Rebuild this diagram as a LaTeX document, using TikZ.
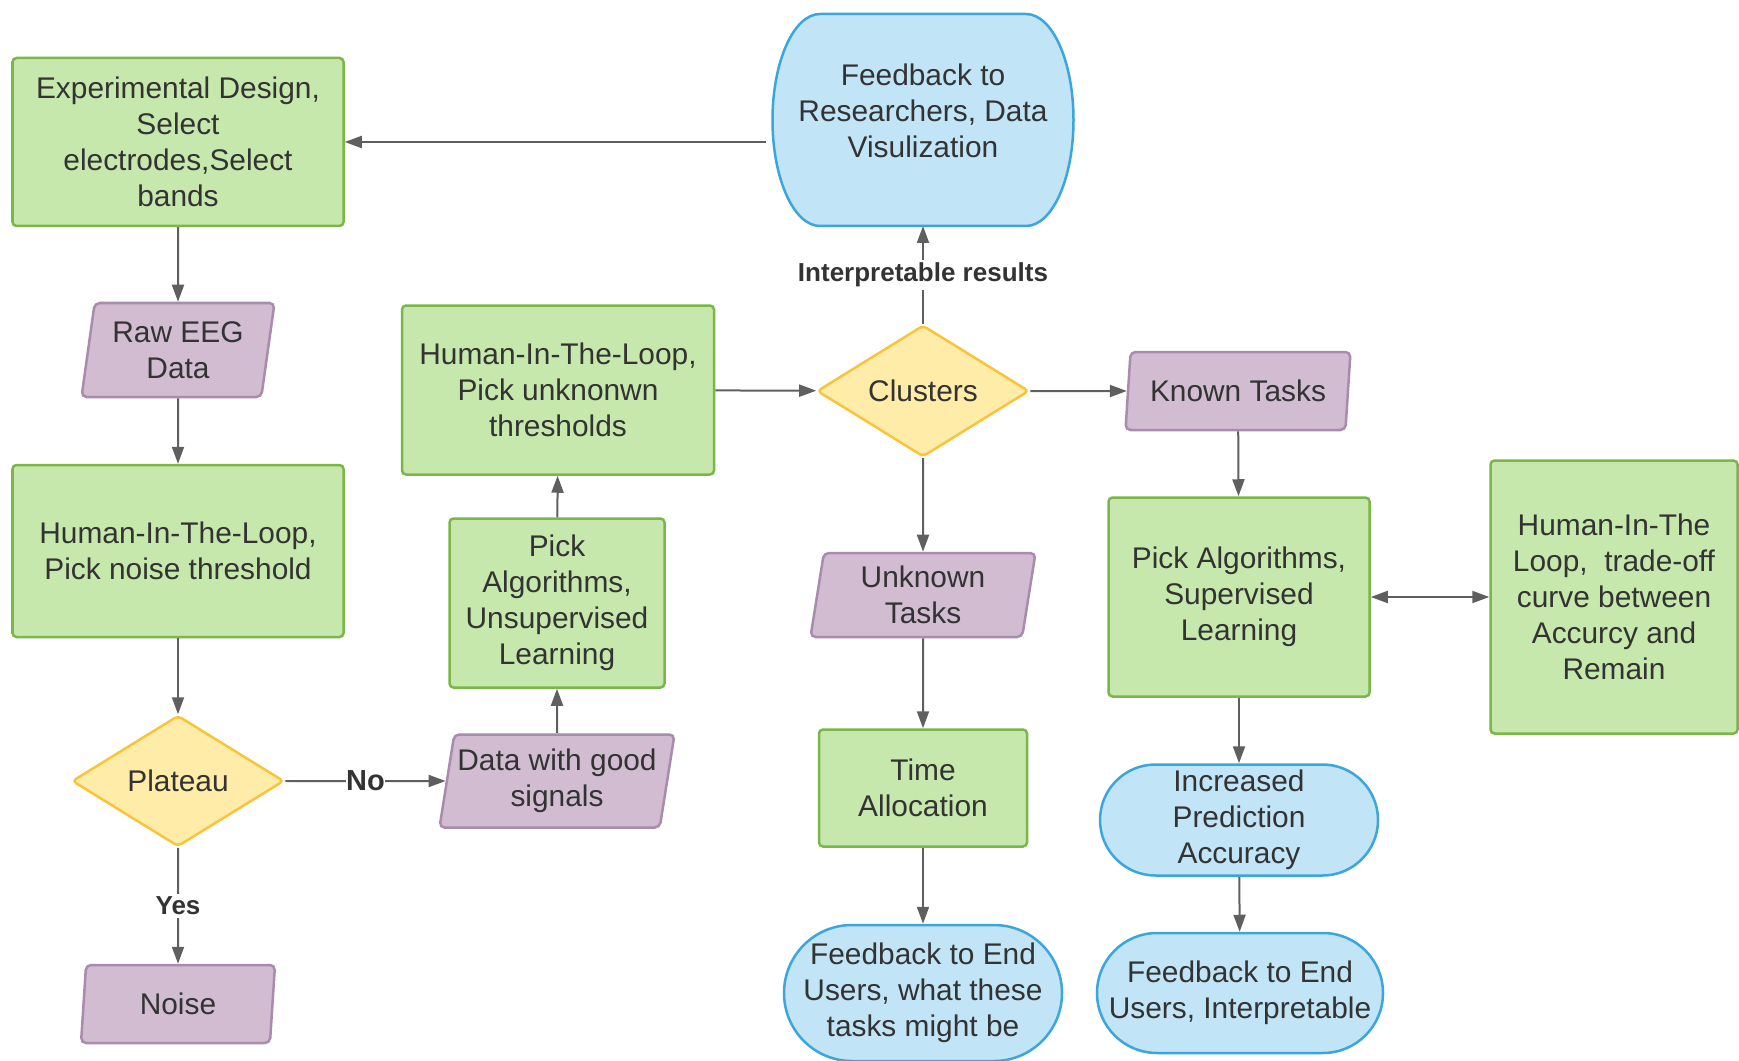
\documentclass[tikz,border=0pt]{standalone}
\usepackage{fontspec}
\setmainfont{Liberation Sans}
\usetikzlibrary{
  arrows.meta,
  shapes.geometric,
  backgrounds
}
\definecolor{greenfill}{HTML}{C7E8AC}
\definecolor{greenline}{HTML}{7AB648}
\definecolor{purplefill}{HTML}{D1BCD2}
\definecolor{purpleline}{HTML}{A98BAC}
\definecolor{yellowfill}{HTML}{FFECA9}
\definecolor{yellowline}{HTML}{F9C43A}
\definecolor{bluefill}{HTML}{C1E4F7}
\definecolor{blueline}{HTML}{3AA6DD}
\definecolor{arrowgray}{HTML}{5F5F5F}
\definecolor{textgray}{HTML}{333333}
\tikzset{
  >={Triangle[length=0.34cm,width=0.24cm]},
  base/.style={
    font=\fontsize{17}{20.5}\selectfont,
    text=textgray,
    align=center,
    inner sep=0pt,
    line width=0.05cm
  },
  process/.style={
    base,
    rectangle,
    rounded corners=0.08cm,
    draw=greenline,
    fill=greenfill
  },
  iobox/.style={
    base,
    trapezium,
    trapezium left angle=77,
    trapezium right angle=103,
    trapezium stretches body=true,
    rounded corners=0.1cm,
    draw=purpleline,
    fill=purplefill
  },
  decision/.style={
    base,
    diamond,
    rounded corners=0.08cm,
    draw=yellowline,
    fill=yellowfill
  },
  terminal/.style={
    base,
    rectangle,
    rounded corners=#1,
    draw=blueline,
    fill=bluefill
  },
  flow/.style={
    line width=0.04cm,
    draw=arrowgray,
    ->
  },
  flowlabel/.style={
    font=\bfseries\fontsize{14.8}{17}\selectfont,
    text=textgray,
    fill=white,
    inner sep=0.06cm
  }
}

\begin{document}
\begin{tikzpicture}
  \useasboundingbox (0,0) rectangle (34.78,-21.22);

  % ---------- left column ----------
  \node[process, minimum width=6.62cm, minimum height=3.36cm]
    (design) at (3.56,-2.84)
    {Experimental Design,\\Select\\electrodes,Select\\bands};
  \node[iobox, minimum width=3.86cm, minimum height=1.88cm]
    (raw) at (3.56,-7.00) {Raw EEG\\Data};
  \node[process, minimum width=6.62cm, minimum height=3.44cm]
    (noisehitl) at (3.56,-11.02)
    {Human-In-The-Loop,\\Pick noise threshold};
  \node[decision, minimum width=4.24cm, minimum height=2.62cm]
    (plateau) at (3.56,-15.62) {Plateau};
  \node[iobox, minimum width=3.88cm, minimum height=1.56cm]
    (noise) at (3.56,-20.08) {Noise};

  % ---------- unsupervised branch ----------
  \node[iobox, minimum width=4.70cm, minimum height=1.86cm]
    (goodsig) at (11.14,-15.62) {Data with good\\signals};
  \node[process, minimum width=4.30cm, minimum height=3.38cm]
    (unsup) at (11.14,-12.06)
    {Pick\\Algorithms,\\Unsupervised\\Learning};
  \node[process, minimum width=6.24cm, minimum height=3.38cm]
    (threshitl) at (11.16,-7.80)
    {Human-In-The-Loop,\\Pick unknonwn\\thresholds};

  % ---------- clusters column ----------
  \node[base, outer sep=0pt, text depth=0.37cm,
    minimum width=6.02cm, minimum height=4.24cm]
    (fbres) at (18.46,-2.40)
    {Feedback to\\Researchers, Data\\Visulization};
  \begin{pgfonlayer}{background}
    \draw[draw=blueline, fill=bluefill, line width=0.05cm]
      (fbres.north) -- ([xshift=-0.95cm]fbres.north east)
      arc[start angle=90, end angle=-90, x radius=0.95cm, y radius=2.12cm]
      -- ([xshift=0.95cm]fbres.south west)
      arc[start angle=270, end angle=90, x radius=0.95cm, y radius=2.12cm]
      -- cycle;
  \end{pgfonlayer}
  \node[decision, minimum width=4.24cm, minimum height=2.60cm]
    (clusters) at (18.46,-7.82) {Clusters};
  \node[iobox, minimum width=4.50cm, minimum height=1.68cm]
    (unknown) at (18.46,-11.90) {Unknown\\Tasks};
  \node[process, minimum width=4.16cm, minimum height=2.34cm]
    (timealloc) at (18.46,-15.76) {Time\\Allocation};
  \node[terminal=1.36cm, minimum width=5.56cm, minimum height=2.72cm]
    (fbusers) at (18.46,-19.86)
    {Feedback to End\\Users, what these\\tasks might be};

  % ---------- supervised branch ----------
  \node[iobox, minimum width=4.50cm, minimum height=1.56cm]
    (known) at (24.76,-7.82) {Known Tasks};
  \node[process, minimum width=5.22cm, minimum height=3.98cm]
    (sup) at (24.78,-11.94)
    {Pick Algorithms,\\Supervised\\Learning};
  \node[process, minimum width=4.94cm, minimum height=5.46cm]
    (tradeoff) at (32.28,-11.94)
    {Human-In-The\\Loop,\ \ trade-off\\curve between\\Accurcy and\\Remain};
  \node[terminal=1.11cm, minimum width=5.56cm, minimum height=2.22cm]
    (accuracy) at (24.78,-16.40)
    {Increased\\Prediction\\Accuracy};
  \node[terminal=1.20cm, minimum width=5.72cm, minimum height=2.40cm]
    (fbinterp) at (24.80,-19.86)
    {Feedback to End\\Users, Interpretable};

  % ---------- connectors ----------
  \draw[flow] ([xshift=-0.14cm]fbres.west |- design.east) -- (design.east);
  \draw[flow] (design) -- (raw);
  \draw[flow] (raw) -- (noisehitl);
  \draw[flow] (noisehitl) -- (plateau);
  \draw[flow] (plateau) -- node[flowlabel] {Yes} (noise);
  \draw[flow] (plateau) -- node[flowlabel, inner sep=0pt,
    font=\bfseries\fontsize{16.5}{18}\selectfont] {No} (goodsig);
  \draw[flow] (goodsig) -- (unsup);
  \draw[flow] (unsup) -- (threshitl);
  \draw[flow] (threshitl) -- (clusters);
  \draw[flow] (clusters) -- node[flowlabel] {Interpretable results} (fbres);
  \draw[flow] (clusters) -- (known);
  \draw[flow] (clusters) -- (unknown);
  \draw[flow] (unknown) -- (timealloc);
  \draw[flow] (timealloc) -- (fbusers);
  \draw[flow] (known) -- (sup);
  \draw[flow, <->] (sup) -- (tradeoff);
  \draw[flow] (sup) -- (accuracy);
  \draw[flow] (accuracy) -- (fbinterp);

\end{tikzpicture}
\end{document}
